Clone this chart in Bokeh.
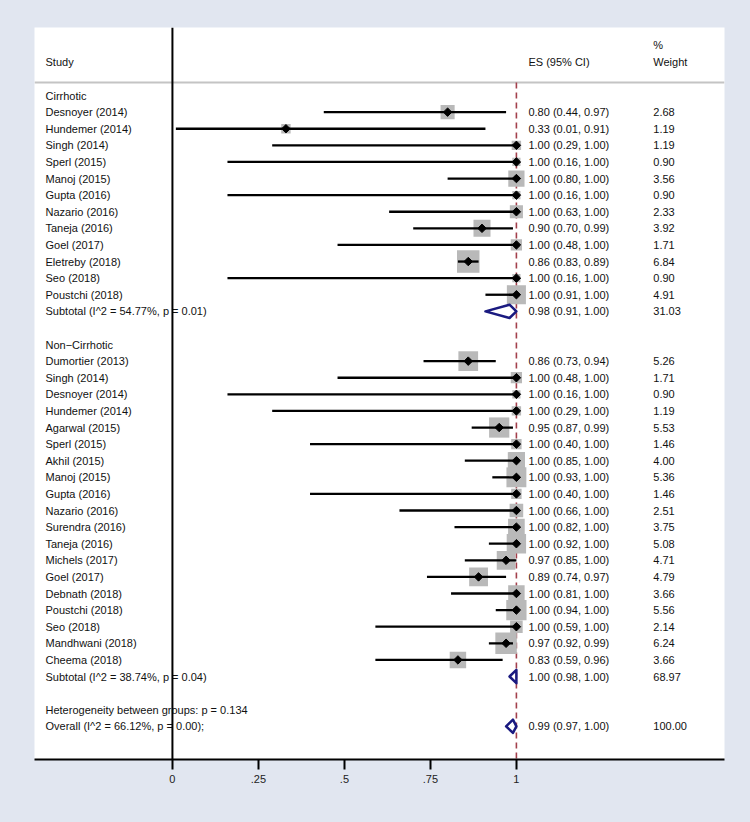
from bokeh.plotting import figure
from bokeh.models import Range1d, Span, FixedTicker, ColumnDataSource
from bokeh.core.properties import value
from bokeh.embed import file_html
from bokeh.resources import INLINE
import math

# ---------------- data ----------------
group_names = ["Cirrhotic", "Non\u2212Cirrhotic"]

studies_c = ["Desnoyer (2014)", "Hundemer (2014)", "Singh (2014)", "Sperl (2015)", "Manoj (2015)",
             "Gupta (2016)", "Nazario (2016)", "Taneja (2016)", "Goel (2017)", "Eletreby (2018)",
             "Seo (2018)", "Poustchi (2018)"]
es_c = [0.80, 0.33, 1.00, 1.00, 1.00, 1.00, 1.00, 0.90, 1.00, 0.86, 1.00, 1.00]
lo_c = [0.44, 0.01, 0.29, 0.16, 0.80, 0.16, 0.63, 0.70, 0.48, 0.83, 0.16, 0.91]
hi_c = [0.97, 0.91, 1.00, 1.00, 1.00, 1.00, 1.00, 0.99, 1.00, 0.89, 1.00, 1.00]
w_c = [2.68, 1.19, 1.19, 0.90, 3.56, 0.90, 2.33, 3.92, 1.71, 6.84, 0.90, 4.91]

studies_n = ["Dumortier (2013)", "Singh (2014)", "Desnoyer (2014)", "Hundemer (2014)", "Agarwal (2015)",
             "Sperl (2015)", "Akhil (2015)", "Manoj (2015)", "Gupta (2016)", "Nazario (2016)",
             "Surendra (2016)", "Taneja (2016)", "Michels (2017)", "Goel (2017)", "Debnath (2018)",
             "Poustchi (2018)", "Seo (2018)", "Mandhwani (2018)", "Cheema (2018)"]
es_n = [0.86, 1.00, 1.00, 1.00, 0.95, 1.00, 1.00, 1.00, 1.00, 1.00, 1.00, 1.00, 0.97, 0.89, 1.00, 1.00, 1.00, 0.97, 0.83]
lo_n = [0.73, 0.48, 0.16, 0.29, 0.87, 0.40, 0.85, 0.93, 0.40, 0.66, 0.82, 0.92, 0.85, 0.74, 0.81, 0.94, 0.59, 0.92, 0.59]
hi_n = [0.94, 1.00, 1.00, 1.00, 0.99, 1.00, 1.00, 1.00, 1.00, 1.00, 1.00, 1.00, 1.00, 0.97, 1.00, 1.00, 1.00, 0.99, 0.96]
w_n = [5.26, 1.71, 0.90, 1.19, 5.53, 1.46, 4.00, 5.36, 1.46, 2.51, 3.75, 5.08, 4.71, 4.79, 3.66, 5.56, 2.14, 6.24, 3.66]

subtotal_labels = ["Subtotal  (I^2 = 54.77%, p = 0.01)", "Subtotal  (I^2 = 38.74%, p = 0.04)"]
subtotal_es = [0.98, 1.00]
subtotal_lo = [0.91, 0.98]
subtotal_hi = [1.00, 1.00]
subtotal_w = [31.03, 68.97]

heterogeneity_label = "Heterogeneity between groups: p = 0.134"
overall_label = "Overall  (I^2 = 66.12%, p = 0.00);"
overall_es, overall_lo, overall_hi, overall_w = 0.99, 0.97, 1.00, 100.00

x_ticks = [0, 0.25, 0.5, 0.75, 1]
x_tick_labels = ["0", ".25", ".5", ".75", "1"]

header_study = "Study"
header_es = "ES (95% CI)"
header_w1 = "%"
header_w2 = "Weight"

# ---------------- layout of rows ----------------
BG = "#e1e6f0"
FONT = value("Liberation Sans")
FS = "11px"

rows_label_y, rows_label_t = [], []
pt_y, pt_es, pt_lo, pt_hi, pt_w = [], [], [], [], []
txt_es_y, txt_es_t, txt_w_t = [], [], []
dia_y, dia_es, dia_lo, dia_hi = [], [], [], []

r = 0
groups = [(studies_c, es_c, lo_c, hi_c, w_c), (studies_n, es_n, lo_n, hi_n, w_n)]
for gi, (st, es, lo, hi, w) in enumerate(groups):
    rows_label_y.append(r); rows_label_t.append(group_names[gi]); r += 1
    for s, e, l, h, ww in zip(st, es, lo, hi, w):
        rows_label_y.append(r); rows_label_t.append(s)
        pt_y.append(r); pt_es.append(e); pt_lo.append(l); pt_hi.append(h); pt_w.append(ww)
        txt_es_y.append(r); txt_es_t.append(f"{e:.2f} ({l:.2f}, {h:.2f})"); txt_w_t.append(f"{ww:.2f}")
        r += 1
    rows_label_y.append(r); rows_label_t.append(subtotal_labels[gi])
    dia_y.append(r); dia_es.append(subtotal_es[gi]); dia_lo.append(subtotal_lo[gi]); dia_hi.append(subtotal_hi[gi])
    txt_es_y.append(r)
    txt_es_t.append(f"{subtotal_es[gi]:.2f} ({subtotal_lo[gi]:.2f}, {subtotal_hi[gi]:.2f})")
    txt_w_t.append(f"{subtotal_w[gi]:.2f}")
    r += 2
rows_label_y.append(r); rows_label_t.append(heterogeneity_label); r += 1
rows_label_y.append(r); rows_label_t.append(overall_label)
dia_y.append(r); dia_es.append(overall_es); dia_lo.append(overall_lo); dia_hi.append(overall_hi)
txt_es_y.append(r); txt_es_t.append(f"{overall_es:.2f} ({overall_lo:.2f}, {overall_hi:.2f})")
txt_w_t.append(f"{overall_w:.2f}")

# ---------------- figure ----------------
p = figure(frame_width=690, frame_height=732,
           x_range=Range1d(-0.401, 1.605), y_range=Range1d(40.0, -4.1),
           output_backend="svg", toolbar_location=None, y_axis_location=None,
           min_border_left=34, min_border_right=26, min_border_top=27, min_border_bottom=61,
           background_fill_color="white", border_fill_color=BG, outline_line_color=None)
p.grid.visible = False

# header separator
p.add_layout(Span(location=-0.78, dimension="width", line_color="#c4c4c4", line_width=2, level="underlay"))
# null line at 0
p.add_layout(Span(location=0, dimension="height", line_color="black", line_width=2))
# dashed line at 1
p.line(x=[1, 1], y=[-0.78, 40.0], line_color="#a3404c", line_width=1.6, line_dash="6 4")

src = ColumnDataSource(dict(y=pt_y, es=pt_es, lo=pt_lo, hi=pt_hi,
                            size=[8.6 * math.sqrt(v) for v in pt_w]))
p.scatter(x="es", y="y", size="size", marker="square", source=src,
          fill_color="#b9b9b9", line_color=None)
p.segment(x0="lo", x1="hi", y0="y", y1="y", source=src, line_color="black", line_width=2.3)
p.scatter(x="es", y="y", size=6, marker="square", angle=math.pi / 4, source=src,
          fill_color="black", line_color="black")

xs = [[l, e, h, e] for l, e, h in zip(dia_lo, dia_es, dia_hi)]
ys = [[y, y - 0.4, y, y + 0.4] for y in dia_y]
p.patches(xs=xs, ys=ys, fill_alpha=0, line_color="#1a1a80", line_width=2.5, line_join="round")

# texts
x_study, x_es, x_w = -0.369, 1.035, 1.398
tkw = dict(text_font=FONT, text_font_size=FS, text_baseline="middle", text_align="left", text_color="#111111")
p.text(x=[x_study] * len(rows_label_y), y=rows_label_y, text=rows_label_t, **tkw)
p.text(x=[x_es] * len(txt_es_y), y=txt_es_y, text=txt_es_t, **tkw)
p.text(x=[x_w] * len(txt_es_y), y=txt_es_y, text=txt_w_t, **tkw)
p.text(x=[x_study, x_es, x_w, x_w], y=[-2, -2, -2, -3.07],
       text=[header_study, header_es, header_w2, header_w1], **tkw)

# x axis
ax = p.xaxis[0]
ax.ticker = FixedTicker(ticks=x_ticks)
ax.major_label_overrides = {t: l for t, l in zip(x_ticks, x_tick_labels)}
ax.axis_line_width = 2
ax.axis_line_color = "black"
ax.major_tick_line_width = 2
ax.major_tick_out = 10
ax.major_tick_in = 0
ax.minor_tick_line_color = None
ax.major_label_text_font = "Liberation Sans"
ax.major_label_text_font_size = FS
ax.major_label_text_color = "#222222"
ax.major_label_standoff = 5

html = file_html(p, INLINE)
html = html.replace("</head>", "<style>html, body { background-color: %s; }</style>\n</head>" % BG, 1)
open("out.html", "w").write(html)
